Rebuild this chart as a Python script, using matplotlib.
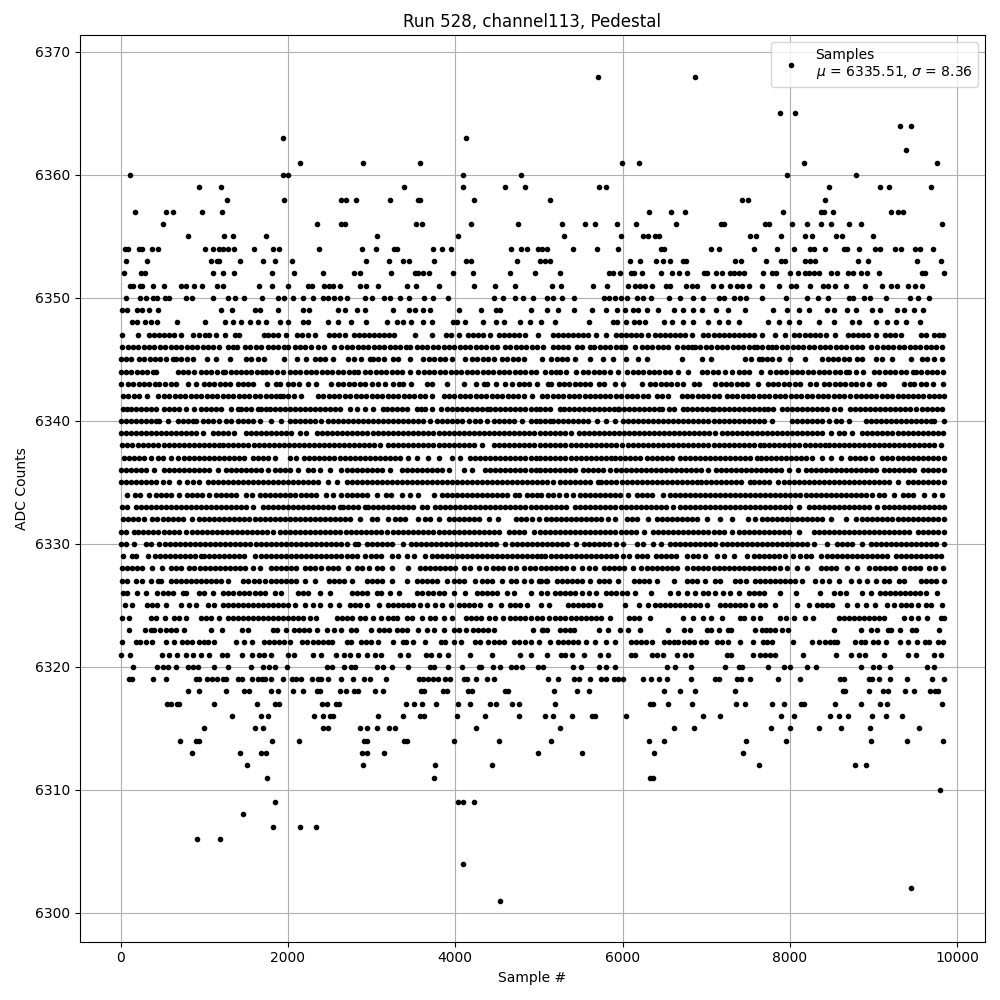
import matplotlib
matplotlib.use('Agg')
import matplotlib.pyplot as plt

# sample numbers, one list per ADC level
adc_6368 = [5708, 6872]
adc_6365 = [7880, 8060]
adc_6364 = [9320, 9452]
adc_6363 = [1940, 4124]
adc_6362 = [9392]
adc_6361 = [2144, 2900, 3584, 5996, 6200, 8168, 9764]
adc_6360 = [116, 1940, 2004, 4088, 4784, 7964, 8792]
adc_6359 = [932, 1196, 3392, 4088, 4592, 4832, 5720, 5804, 8468, 9080, 9188, 9692]
adc_6358 = [1268, 1952, 2636, 2696, 2816, 3224, 3560, 3584, 4220, 5132, 7424, 7496, 8420]
adc_6357 = [176, 536, 620, 968, 1208, 6320, 6584, 6752, 7916, 8368, 8408, 8516, 9212, 9296, 9356]
adc_6356 = [500, 2348, 2636, 2680, 3536, 3608, 4184, 4748, 5276, 5552, 5672, 5936, 6164, 6644, 7172, 7208,
            7700, 7748, 8024, 8204, 8372, 8492, 8708, 8852, 9824]
adc_6355 = [800, 1232, 1340, 1736, 3068, 4028, 5300, 5984, 6248, 6308, 6392, 6440, 7520, 7592, 7892, 8180,
            8264, 8552, 8624, 8996]
adc_6354 = [48, 84, 224, 260, 380, 452, 1004, 1100, 1172, 1220, 1280, 1352, 1592, 1820, 1892, 2372, 2888,
            3056, 3272, 3308, 3740, 3836, 3944, 4664, 4784, 4856, 4988, 5040, 5100, 5404, 5696, 5948, 6464,
            6500, 7064, 7148, 7568, 7844, 8048, 8240, 8288, 8420, 8648, 8684, 8828, 9020, 9080, 9260, 9332,
            9500, 9560, 9716]
adc_6353 = [68, 320, 1076, 1148, 1172, 1424, 1700, 1844, 2048, 2936, 3212, 3380, 3452, 3752, 4124, 4184,
            4736, 5012, 5072, 5132, 6092, 6212, 6404, 6488, 6572, 6728, 6764, 7340, 7412, 7712, 7892, 7940,
            8180, 8240, 8300, 8816, 8936, 9524, 9812]
adc_6352 = [40, 248, 296, 1100, 1220, 1352, 1808, 2072, 2420, 2792, 2864, 3236, 3524, 3560, 3620, 3692,
            3968, 4208, 4652, 4952, 5252, 5836, 5884, 5968, 6104, 6140, 6236, 6464, 6596, 6680, 6776, 6980,
            7016, 7112, 7184, 7280, 7328, 7388, 7448, 7676, 7784, 7832, 8000, 8096, 8180, 8228, 8288, 8348,
            8492, 8564, 8696, 8756, 8852, 8924, 9068, 9584, 9620, 9840]
adc_6351 = [116, 152, 236, 260, 392, 512, 716, 776, 872, 968, 1148, 1220, 1652, 1808, 2000, 2240, 2288,
            2432, 2492, 2540, 2624, 2864, 2936, 3080, 3428, 3536, 3800, 4220, 4472, 4712, 5156, 5264, 5648,
            5816, 6068, 6152, 6212, 6272, 6356, 6524, 6572, 6764, 6836, 6896, 7076, 7172, 7280, 7364, 7424,
            7508, 7664, 7868, 8012, 8072, 8240, 8396, 8456, 8540, 8672, 8900, 9104, 9212, 9284, 9416, 9500,
            9584]
adc_6350 = [60, 236, 308, 392, 440, 524, 572, 776, 848, 1100, 1280, 1364, 1472, 1688, 1880, 1952, 2060,
            2180, 2300, 2420, 2480, 2552, 2624, 2708, 2924, 3008, 3152, 3224, 3344, 3452, 3628, 3740, 3908,
            4460, 4568, 4712, 4808, 4928, 5096, 5168, 5276, 5420, 5780, 5840, 5912, 5984, 6056, 6176, 6248,
            6344, 6560, 6692, 6848, 6968, 7148, 7208, 7328, 7400, 7472, 7664, 7952, 8204, 8336, 8456, 8708,
            8756, 8888, 8960, 9152, 9440, 9536, 9668]
adc_6349 = [20, 80, 200, 260, 340, 452, 1196, 1328, 1604, 1664, 1880, 2180, 2252, 2600, 2684, 2828, 2924,
            3260, 3452, 3524, 3620, 3704, 4040, 4308, 4484, 4532, 4904, 5096, 5228, 5420, 5636, 5804, 5936,
            6032, 6128, 6188, 6292, 6428, 6620, 6728, 6848, 6948, 7112, 7256, 7468, 7804, 7972, 8108, 8228,
            8448, 8528, 8684, 8792, 8980, 9076, 9284, 9368, 9488, 9596]
adc_6348 = [140, 200, 296, 368, 440, 668, 1004, 1244, 1340, 1440, 1544, 1640, 1740, 1904, 2000, 2180, 2240,
            2480, 2600, 2756, 2936, 3180, 3308, 3380, 3476, 3620, 3728, 3968, 4016, 4112, 4328, 4484, 4580,
            4772, 4892, 5024, 5192, 5600, 5888, 5936, 6044, 6140, 6200, 6272, 6500, 6596, 6728, 6848, 7028,
            7148, 7256, 7388, 7736, 7868, 7988, 8108, 8348, 8524, 8740, 8824, 9028, 9160, 9268, 9388, 9556]
adc_6347 = [20, 212, 340, 400, 460, 520, 580, 640, 720, 868, 940, 1012, 1060, 1140, 1252, 1372, 1420, 1708,
            1764, 1820, 1880, 1980, 2108, 2168, 2240, 2320, 2492, 2552, 2612, 2680, 2788, 2848, 2908, 2968,
            3028, 3088, 3148, 3208, 3268, 3516, 3720, 3884, 3944, 4040, 4148, 4208, 4268, 4328, 4420, 4520,
            4580, 4640, 4700, 4760, 4840, 4988, 5168, 5228, 5288, 5348, 5408, 5468, 5528, 5588, 5688, 5808,
            5920, 5980, 6040, 6100, 6160, 6220, 6308, 6388, 6448, 6508, 6568, 6628, 6688, 6748, 6828, 6968,
            7028, 7088, 7148, 7208, 7268, 7328, 7388, 7448, 7508, 7568, 7668, 7820, 7948, 8056, 8116, 8176,
            8236, 8296, 8356, 8428, 8540, 8696, 8756, 8816, 8876, 8936, 9028, 9140, 9200, 9260, 9328, 9568,
            9628, 9728, 9788, 9835]
adc_6346 = [20, 84, 148, 212, 276, 340, 404, 468, 532, 596, 660, 724, 788, 852, 916, 980, 1044, 1108, 1180,
            1280, 1340, 1388, 1488, 1552, 1616, 1680, 1760, 1820, 1884, 1948, 2000, 2080, 2144, 2208, 2272,
            2360, 2428, 2552, 2640, 2704, 2768, 2832, 2896, 2960, 3024, 3088, 3152, 3216, 3280, 3344, 3408,
            3460, 3540, 3604, 3668, 3732, 3796, 3860, 3924, 3988, 4052, 4116, 4180, 4244, 4308, 4372, 4436,
            4500, 4600, 4660, 4724, 4788, 4852, 4916, 4980, 5048, 5168, 5228, 5288, 5348, 5456, 5520, 5608,
            5660, 5728, 5792, 5856, 5920, 5984, 6028, 6148, 6228, 6292, 6356, 6420, 6484, 6548, 6648, 6728,
            6780, 6828, 6868, 6932, 6996, 7060, 7124, 7188, 7252, 7316, 7380, 7444, 7508, 7568, 7608, 7672,
            7736, 7788, 7840, 7908, 7972, 8036, 8100, 8164, 8228, 8292, 8356, 8420, 8484, 8548, 8612, 8676,
            8740, 8804, 8868, 8968, 9048, 9112, 9176, 9240, 9304, 9368, 9432, 9496, 9560, 9624, 9688, 9752,
            9816]
adc_6345 = [8, 60, 128, 220, 284, 348, 412, 476, 540, 620, 660, 724, 788, 860, 1028, 1136, 1312, 1500, 1564,
            1640, 1712, 1952, 2108, 2212, 2320, 2384, 2448, 2540, 2720, 2784, 2868, 2980, 3020, 3080, 3152,
            3260, 3320, 3460, 3620, 3684, 3748, 3812, 3876, 3960, 4112, 4200, 4264, 4328, 4392, 4460, 4560,
            4624, 4688, 4752, 4820, 5040, 5148, 5212, 5276, 5340, 5428, 5612, 5768, 5888, 6040, 6188, 6296,
            6716, 6956, 7064, 7468, 7532, 7628, 7668, 7732, 7788, 7868, 8000, 8180, 8388, 8452, 8516, 8580,
            8644, 8708, 8808, 8864, 9028, 9108, 9228, 9452, 9576, 9640, 9728, 9824]
adc_6344 = [0, 64, 128, 192, 256, 320, 384, 420, 680, 744, 808, 872, 960, 1020, 1084, 1148, 1220, 1252, 1316,
            1380, 1440, 1500, 1564, 1628, 1692, 1740, 1800, 1864, 1940, 2020, 2084, 2148, 2212, 2276, 2340,
            2404, 2468, 2532, 2596, 2660, 2724, 2788, 2840, 2920, 2984, 3048, 3112, 3176, 3240, 3304, 3368,
            3460, 3560, 3624, 3688, 3752, 3816, 3880, 3944, 4008, 4072, 4136, 4200, 4264, 4328, 4392, 4456,
            4520, 4584, 4648, 4712, 4776, 4840, 4904, 4968, 5068, 5148, 5208, 5256, 5320, 5440, 5528, 5592,
            5656, 5720, 5784, 5848, 5948, 6056, 6120, 6184, 6248, 6312, 6376, 6440, 6504, 6568, 6668, 6788,
            6948, 7012, 7076, 7140, 7228, 7308, 7388, 7448, 7512, 7660, 7768, 7832, 7896, 7960, 8024, 8088,
            8152, 8216, 8280, 8344, 8408, 8472, 8536, 8600, 8668, 8708, 8788, 8876, 9008, 9072, 9136, 9200,
            9264, 9328, 9392, 9468, 9508, 9572, 9636, 9700, 9764, 9835]
adc_6343 = [8, 88, 152, 216, 280, 344, 408, 460, 532, 596, 660, 800, 900, 992, 1056, 1120, 1184, 1248, 1312,
            1400, 1460, 1520, 1580, 1752, 1860, 1900, 2000, 2064, 2128, 2240, 2336, 2520, 2600, 2664, 2728,
            2792, 2860, 2920, 3000, 3080, 3160, 3260, 3324, 3380, 3468, 3660, 3720, 3900, 4100, 4248, 4340,
            4380, 4488, 4600, 4680, 4760, 4824, 4880, 4980, 5108, 5148, 5236, 5300, 5364, 5428, 5492, 5556,
            5608, 5720, 5784, 5908, 6008, 6228, 6328, 6392, 6456, 6520, 6584, 6648, 6728, 6860, 6920, 7108,
            7172, 7236, 7300, 7364, 7428, 7488, 7616, 7736, 7800, 7864, 7928, 7992, 8068, 8120, 8240, 8308,
            8408, 8472, 8536, 8600, 8664, 8728, 8792, 8868, 8948, 9068, 9128, 9368, 9432, 9488, 9568, 9632,
            9708, 9836]
adc_6342 = [28, 92, 156, 220, 320, 452, 516, 580, 644, 708, 772, 836, 900, 964, 1028, 1092, 1156, 1220, 1284,
            1348, 1412, 1476, 1540, 1604, 1668, 1732, 1796, 1860, 1900, 1940, 2004, 2068, 2160, 2360, 2424,
            2488, 2552, 2616, 2680, 2744, 2808, 2872, 2936, 3000, 3064, 3128, 3192, 3256, 3320, 3384, 3448,
            3512, 3576, 3640, 3720, 3860, 3924, 3988, 4052, 4116, 4180, 4244, 4308, 4372, 4436, 4500, 4564,
            4628, 4692, 4756, 4820, 4920, 5040, 5100, 5164, 5228, 5292, 5356, 5420, 5484, 5548, 5612, 5668,
            5728, 5792, 5856, 5920, 5984, 6048, 6112, 6176, 6240, 6304, 6408, 6468, 6548, 6708, 6772, 6836,
            6900, 6964, 7028, 7092, 7156, 7248, 7308, 7372, 7436, 7500, 7564, 7628, 7692, 7756, 7820, 7884,
            7948, 8012, 8076, 8140, 8204, 8268, 8332, 8396, 8460, 8524, 8588, 8652, 8716, 8788, 8848, 8908,
            8972, 9036, 9100, 9164, 9228, 9292, 9356, 9408, 9468, 9532, 9596, 9660, 9724, 9788, 9840]
adc_6341 = [28, 76, 128, 188, 248, 308, 368, 428, 520, 580, 640, 700, 780, 880, 960, 1020, 1080, 1140, 1200, 1320,
            1400, 1440, 1500, 1560, 1640, 1680, 1740, 1788, 1840, 1900, 1960, 2020, 2080, 2140, 2200, 2260, 2320,
            2380, 2440, 2500, 2560, 2620, 2740, 2828, 2920, 3020, 3140, 3180, 3240, 3300, 3360, 3420, 3540, 3588,
            3640, 3720, 3828, 3900, 3960, 4020, 4080, 4140, 4200, 4260, 4320, 4380, 4420, 4480, 4540, 4600, 4660,
            4720, 4780, 4840, 4900, 4960, 5008, 5068, 5128, 5248, 5300, 5360, 5420, 5480, 5540, 5600, 5660, 5720,
            5780, 5840, 5900, 5948, 5960, 6020, 6080, 6140, 6200, 6260, 6320, 6380, 6440, 6468, 6560, 6620, 6728,
            6776, 6836, 6896, 6956, 7016, 7068, 7096, 7156, 7216, 7276, 7336, 7396, 7456, 7516, 7576, 7636, 7688,
            7736, 7796, 7908, 7968, 8028, 8088, 8148, 8208, 8268, 8328, 8388, 8448, 8528, 8596, 8720, 8780, 8840,
            8900, 8960, 9020, 9080, 9140, 9200, 9260, 9320, 9380, 9440, 9508, 9580, 9640, 9700, 9760, 9820]
adc_6340 = [0, 60, 120, 180, 240, 300, 360, 420, 460, 560, 680, 740, 800, 860, 900, 980, 1040, 1100, 1180, 1260,
            1320, 1400, 1460, 1520, 1580, 1660, 1800, 1920, 2020, 2080, 2140, 2200, 2260, 2320, 2400, 2480, 2540,
            2600, 2660, 2720, 2780, 2840, 2900, 2960, 3020, 3080, 3140, 3200, 3260, 3320, 3380, 3440, 3500, 3560,
            3620, 3700, 3780, 3840, 3900, 3960, 4020, 4080, 4160, 4240, 4300, 4380, 4460, 4520, 4580, 4640, 4700,
            4800, 4900, 4960, 5008, 5068, 5128, 5168, 5228, 5288, 5348, 5408, 5468, 5528, 5588, 5696, 5808, 5908,
            6008, 6068, 6128, 6188, 6248, 6308, 6368, 6428, 6488, 6548, 6608, 6668, 6728, 6788, 6848, 6908, 6968,
            7028, 7088, 7148, 7208, 7268, 7328, 7388, 7448, 7508, 7568, 7628, 7688, 7788, 8028, 8088, 8148, 8208,
            8268, 8328, 8388, 8468, 8548, 8608, 8708, 8908, 8968, 9028, 9088, 9148, 9208, 9268, 9328, 9388, 9448,
            9508, 9568, 9628, 9688, 9728, 9842]
adc_6339 = [0, 60, 120, 180, 240, 300, 360, 420, 480, 540, 600, 660, 720, 780, 840, 900, 980, 1100, 1160, 1220,
            1280, 1360, 1500, 1560, 1620, 1680, 1740, 1800, 1860, 1920, 1980, 2040, 2140, 2220, 2348, 2408, 2468,
            2528, 2588, 2648, 2708, 2768, 2828, 2888, 2940, 3020, 3080, 3140, 3200, 3260, 3320, 3380, 3440, 3500,
            3560, 3620, 3680, 3740, 3800, 3860, 3920, 3980, 4040, 4100, 4160, 4220, 4280, 4340, 4400, 4460, 4520,
            4580, 4640, 4700, 4760, 4820, 4880, 4940, 5008, 5068, 5128, 5188, 5248, 5308, 5388, 5480, 5540, 5600,
            5660, 5720, 5780, 5840, 5900, 5960, 6020, 6080, 6140, 6200, 6260, 6320, 6380, 6440, 6500, 6560, 6620,
            6680, 6740, 6800, 6860, 6920, 6980, 7040, 7108, 7188, 7248, 7308, 7368, 7428, 7488, 7548, 7608, 7668,
            7728, 7788, 7848, 7908, 7968, 8028, 8088, 8148, 8208, 8268, 8328, 8388, 8488, 8588, 8648, 8748, 8868,
            8928, 8988, 9048, 9108, 9168, 9228, 9288, 9348, 9408, 9468, 9528, 9588, 9648, 9708, 9768, 9828]
adc_6338 = [12, 76, 140, 212, 272, 332, 392, 452, 512, 572, 632, 692, 752, 812, 872, 932, 992, 1052, 1112, 1180,
            1228, 1288, 1348, 1408, 1468, 1528, 1588, 1648, 1708, 1768, 1828, 1888, 1948, 2008, 2068, 2128, 2188,
            2248, 2308, 2368, 2428, 2488, 2548, 2608, 2668, 2728, 2788, 2848, 2908, 2968, 3028, 3100, 3200, 3260,
            3320, 3380, 3440, 3500, 3560, 3620, 3680, 3740, 3800, 3860, 3920, 3980, 4040, 4100, 4160, 4220, 4320,
            4460, 4520, 4580, 4640, 4700, 4760, 4820, 4880, 4940, 5008, 5068, 5128, 5188, 5248, 5308, 5388, 5448,
            5508, 5568, 5628, 5688, 5748, 5808, 5868, 5928, 5988, 6068, 6128, 6188, 6248, 6308, 6368, 6428, 6488,
            6548, 6608, 6668, 6728, 6788, 6848, 6908, 6968, 7028, 7088, 7148, 7208, 7268, 7328, 7388, 7448, 7508,
            7568, 7648, 7696, 7756, 7816, 7876, 7936, 7996, 8056, 8116, 8176, 8236, 8296, 8356, 8416, 8468, 8528,
            8588, 8648, 8708, 8768, 8828, 8888, 8948, 9008, 9068, 9128, 9188, 9248, 9308, 9368, 9428, 9488, 9548,
            9608, 9668, 9728, 9808]
adc_6337 = [40, 100, 160, 220, 280, 360, 452, 500, 600, 680, 760, 820, 880, 940, 1000, 1060, 1120, 1180, 1240, 1300,
            1360, 1420, 1480, 1580, 1640, 1700, 1760, 1840, 2020, 2100, 2188, 2248, 2308, 2368, 2428, 2488, 2548,
            2620, 2680, 2740, 2800, 2860, 2920, 2980, 3040, 3100, 3160, 3220, 3280, 3340, 3440, 3540, 3680, 3800,
            3960, 4060, 4180, 4240, 4300, 4360, 4420, 4480, 4540, 4600, 4660, 4720, 4780, 4840, 4900, 4960, 5008,
            5068, 5128, 5188, 5248, 5308, 5388, 5440, 5500, 5560, 5620, 5680, 5740, 5800, 5860, 5908, 5968, 6028,
            6088, 6148, 6208, 6288, 6348, 6408, 6468, 6528, 6588, 6688, 6748, 6808, 6868, 6928, 6988, 7048, 7108,
            7168, 7228, 7288, 7348, 7408, 7468, 7528, 7608, 7656, 7716, 7776, 7836, 7896, 7956, 8016, 8076, 8136,
            8188, 8268, 8388, 8496, 8616, 8720, 8780, 8840, 8900, 8988, 9108, 9168, 9228, 9288, 9348, 9408, 9468,
            9528, 9588, 9648, 9708, 9768, 9840]
adc_6336 = [0, 60, 120, 180, 240, 300, 400, 520, 580, 640, 700, 760, 820, 880, 940, 1000, 1060, 1160, 1260, 1320,
            1380, 1440, 1500, 1560, 1620, 1680, 1760, 1840, 1900, 1960, 2020, 2120, 2240, 2300, 2380, 2500, 2640,
            2700, 2760, 2820, 2880, 2940, 3000, 3060, 3120, 3220, 3360, 3420, 3480, 3540, 3600, 3660, 3720, 3780,
            3840, 3920, 4100, 4200, 4360, 4420, 4480, 4540, 4600, 4660, 4720, 4780, 4840, 4900, 4960, 5008, 5068,
            5128, 5188, 5248, 5308, 5368, 5428, 5528, 5588, 5648, 5708, 5768, 5848, 5920, 5980, 6040, 6100, 6160,
            6220, 6280, 6340, 6400, 6460, 6520, 6580, 6640, 6700, 6760, 6820, 6880, 6940, 7028, 7120, 7180, 7240,
            7300, 7360, 7420, 7480, 7540, 7600, 7660, 7720, 7780, 7840, 7900, 7988, 8096, 8188, 8248, 8308, 8368,
            8428, 8488, 8548, 8608, 8668, 8728, 8788, 8848, 8908, 8968, 9028, 9128, 9188, 9248, 9308, 9368, 9428,
            9488, 9588, 9648, 9708, 9768, 9842]
adc_6335 = [0, 60, 120, 180, 240, 300, 360, 420, 500, 580, 692, 788, 860, 932, 1040, 1100, 1160, 1220, 1280, 1340,
            1400, 1460, 1520, 1580, 1640, 1700, 1760, 1820, 1880, 1940, 2000, 2060, 2120, 2180, 2240, 2300, 2360,
            2480, 2588, 2700, 2760, 2820, 2880, 2940, 3000, 3060, 3120, 3180, 3240, 3300, 3360, 3420, 3480, 3540,
            3600, 3660, 3720, 3780, 3840, 3900, 3960, 4020, 4080, 4140, 4200, 4260, 4320, 4380, 4440, 4500, 4560,
            4620, 4680, 4740, 4800, 4860, 4920, 4980, 5040, 5100, 5168, 5248, 5308, 5368, 5428, 5488, 5548, 5608,
            5708, 5748, 5808, 5868, 5928, 5988, 6048, 6108, 6168, 6228, 6288, 6348, 6408, 6468, 6528, 6588, 6648,
            6708, 6768, 6828, 6888, 6936, 6996, 7056, 7116, 7176, 7236, 7296, 7356, 7416, 7520, 7576, 7636, 7696,
            7756, 7856, 7928, 7988, 8048, 8108, 8168, 8228, 8288, 8348, 8408, 8468, 8528, 8588, 8648, 8708, 8768,
            8828, 8888, 8948, 9008, 9068, 9128, 9188, 9288, 9408, 9468, 9528, 9588, 9648, 9708, 9768, 9842]
adc_6334 = [80, 172, 232, 340, 420, 480, 540, 600, 700, 788, 848, 908, 968, 1060, 1140, 1200, 1260, 1320, 1380, 1500,
            1572, 1660, 1720, 1780, 1840, 1900, 1960, 2020, 2088, 2160, 2220, 2280, 2340, 2460, 2540, 2640, 2700,
            2760, 2820, 2880, 2940, 3060, 3168, 3228, 3360, 3460, 3560, 3752, 3840, 3900, 3960, 4020, 4080, 4140,
            4200, 4260, 4320, 4380, 4440, 4500, 4560, 4620, 4720, 4768, 4860, 4920, 4980, 5028, 5108, 5168, 5240,
            5328, 5408, 5488, 5548, 5608, 5668, 5728, 5788, 5848, 5908, 5968, 6068, 6168, 6228, 6288, 6348, 6488,
            6568, 6628, 6688, 6748, 6808, 6868, 6928, 6988, 7048, 7108, 7168, 7228, 7288, 7348, 7408, 7468, 7528,
            7588, 7648, 7708, 7768, 7828, 7888, 7948, 8008, 8068, 8128, 8188, 8248, 8308, 8368, 8428, 8488, 8548,
            8608, 8668, 8728, 8788, 8848, 8908, 8988, 9068, 9128, 9248, 9348, 9408, 9468, 9608, 9720, 9816]
adc_6333 = [12, 80, 180, 240, 300, 360, 420, 480, 540, 600, 660, 720, 780, 840, 900, 960, 1020, 1080, 1140, 1200,
            1260, 1320, 1380, 1440, 1500, 1580, 1700, 1760, 1820, 1880, 1940, 2000, 2060, 2120, 2180, 2240, 2300,
            2360, 2420, 2480, 2540, 2620, 2660, 2720, 2780, 2840, 2920, 2960, 3020, 3080, 3140, 3200, 3260, 3320,
            3380, 3440, 3500, 3600, 3660, 3760, 3820, 3880, 3940, 4000, 4060, 4120, 4180, 4240, 4300, 4360, 4420,
            4480, 4540, 4600, 4660, 4720, 4780, 4840, 4900, 4960, 5020, 5080, 5140, 5200, 5260, 5320, 5428, 5496,
            5556, 5616, 5676, 5736, 5796, 5856, 5916, 5976, 6036, 6096, 6156, 6216, 6276, 6336, 6396, 6456, 6516,
            6608, 6688, 6748, 6808, 6868, 6928, 6988, 7048, 7108, 7168, 7228, 7288, 7348, 7408, 7468, 7528, 7588,
            7648, 7708, 7768, 7828, 7888, 7948, 8008, 8108, 8228, 8288, 8348, 8408, 8468, 8528, 8588, 8648, 8708,
            8768, 8828, 8888, 8948, 9048, 9128, 9188, 9248, 9308, 9368, 9428, 9488, 9548, 9608, 9668, 9728, 9788,
            9840]
adc_6332 = [28, 88, 148, 208, 280, 380, 440, 500, 560, 620, 680, 740, 852, 940, 1000, 1060, 1120, 1180, 1240, 1300,
            1360, 1420, 1480, 1540, 1600, 1660, 1720, 1780, 1840, 1900, 1960, 2020, 2080, 2140, 2200, 2260, 2320,
            2380, 2440, 2500, 2560, 2620, 2680, 2740, 2860, 3000, 3060, 3200, 3280, 3340, 3400, 3560, 3640, 3700,
            3800, 3920, 3980, 4040, 4100, 4160, 4220, 4280, 4400, 4508, 4732, 4792, 4852, 4912, 5000, 5080, 5140,
            5200, 5260, 5320, 5380, 5440, 5500, 5560, 5620, 5680, 5740, 5828, 5912, 6056, 6116, 6176, 6308, 6416,
            6476, 6536, 6596, 6656, 6716, 6776, 6836, 6896, 7008, 7168, 7308, 7496, 7588, 7668, 7728, 7788, 7848,
            7908, 7968, 8028, 8088, 8148, 8208, 8268, 8328, 8388, 8488, 8668, 8788, 8868, 8928, 8988, 9048, 9108,
            9168, 9228, 9288, 9348, 9408, 9468, 9528, 9588, 9648, 9708, 9768, 9840]
adc_6331 = [0, 60, 160, 212, 272, 332, 392, 452, 512, 572, 632, 692, 780, 852, 912, 972, 1032, 1092, 1152, 1212,
            1272, 1332, 1392, 1452, 1512, 1572, 1632, 1692, 1752, 1820, 1908, 1968, 2028, 2088, 2148, 2208, 2268,
            2328, 2388, 2448, 2508, 2568, 2628, 2688, 2748, 2808, 2868, 2928, 2988, 3048, 3108, 3180, 3260, 3320,
            3380, 3440, 3500, 3560, 3620, 3680, 3740, 3800, 3860, 3920, 3980, 4040, 4100, 4160, 4220, 4280, 4340,
            4400, 4460, 4520, 4640, 4700, 4760, 4820, 4940, 5008, 5068, 5128, 5188, 5248, 5308, 5376, 5436, 5496,
            5556, 5616, 5676, 5736, 5796, 5856, 5916, 5976, 6036, 6096, 6156, 6256, 6368, 6428, 6488, 6548, 6608,
            6668, 6728, 6788, 6848, 6908, 6968, 7028, 7088, 7148, 7208, 7308, 7388, 7448, 7508, 7568, 7628, 7688,
            7748, 7808, 7868, 7928, 7988, 8108, 8288, 8348, 8408, 8468, 8528, 8588, 8648, 8708, 8768, 8828, 8888,
            8948, 9008, 9068, 9128, 9188, 9248, 9308, 9368, 9428, 9528, 9588, 9648, 9708, 9768, 9840]
adc_6330 = [0, 60, 160, 300, 360, 460, 532, 592, 652, 712, 772, 832, 892, 952, 1012, 1072, 1132, 1192, 1252, 1312,
            1372, 1432, 1492, 1552, 1612, 1672, 1732, 1792, 1852, 1912, 1972, 2032, 2092, 2152, 2212, 2272, 2340,
            2400, 2460, 2520, 2580, 2640, 2700, 2800, 2840, 2940, 3000, 3060, 3120, 3180, 3240, 3380, 3468, 3528,
            3588, 3648, 3708, 3768, 3828, 3888, 3948, 4008, 4068, 4128, 4188, 4248, 4308, 4368, 4428, 4488, 4600,
            4680, 4740, 4800, 4860, 4920, 4980, 5040, 5100, 5160, 5220, 5280, 5340, 5448, 5536, 5596, 5656, 5716,
            5776, 5836, 5920, 6008, 6168, 6248, 6368, 6456, 6568, 6628, 6688, 6748, 6808, 6868, 6928, 6988, 7048,
            7108, 7188, 7248, 7308, 7368, 7428, 7488, 7548, 7608, 7668, 7728, 7788, 7848, 7908, 7968, 8028, 8088,
            8148, 8208, 8288, 8448, 8568, 8628, 8688, 8748, 8868, 8968, 9028, 9088, 9148, 9208, 9268, 9328, 9388,
            9448, 9508, 9568, 9628, 9688, 9748, 9842]
adc_6329 = [28, 140, 188, 332, 412, 472, 532, 592, 652, 712, 772, 832, 892, 960, 1000, 1060, 1120, 1180, 1240, 1300,
            1360, 1420, 1480, 1600, 1680, 1740, 1800, 1860, 1920, 1980, 2040, 2100, 2160, 2220, 2280, 2340, 2400,
            2460, 2520, 2580, 2640, 2700, 2760, 2820, 2920, 2988, 3048, 3108, 3240, 3320, 3420, 3508, 3640, 3720,
            3780, 3840, 3900, 3960, 4020, 4080, 4140, 4200, 4260, 4320, 4380, 4440, 4500, 4560, 4620, 4680, 4740,
            4800, 4860, 4920, 4980, 5028, 5068, 5148, 5208, 5268, 5328, 5388, 5448, 5508, 5568, 5628, 5688, 5748,
            5808, 5868, 5928, 6000, 6072, 6168, 6228, 6288, 6400, 6460, 6520, 6580, 6640, 6768, 6840, 6908, 6988,
            7128, 7208, 7328, 7488, 7568, 7628, 7688, 7748, 7808, 7868, 7948, 8036, 8128, 8188, 8248, 8368, 8440,
            8508, 8568, 8628, 8688, 8748, 8808, 8868, 8928, 8988, 9048, 9108, 9168, 9268, 9328, 9388, 9448, 9508,
            9568, 9628, 9688, 9748, 9808]
adc_6328 = [12, 72, 132, 192, 260, 380, 488, 600, 660, 720, 820, 872, 952, 1012, 1072, 1132, 1192, 1252, 1312, 1372,
            1432, 1492, 1580, 1664, 1792, 1852, 1912, 1972, 2032, 2100, 2200, 2260, 2320, 2400, 2480, 2540, 2600,
            2720, 2820, 2880, 2972, 3060, 3120, 3240, 3440, 3580, 3640, 3700, 3760, 3820, 3880, 3940, 4000, 4100,
            4180, 4280, 4368, 4452, 4512, 4572, 4660, 4728, 4828, 4888, 4948, 5028, 5088, 5148, 5208, 5268, 5328,
            5408, 5520, 5600, 5668, 5776, 5836, 5896, 5956, 6016, 6128, 6216, 6288, 6348, 6408, 6468, 6528, 6588,
            6648, 6768, 6848, 6908, 6968, 7028, 7088, 7148, 7208, 7268, 7328, 7388, 7448, 7508, 7568, 7628, 7688,
            7748, 7808, 7880, 7968, 8088, 8208, 8368, 8428, 8488, 8548, 8688, 8808, 8948, 9016, 9076, 9136, 9196,
            9256, 9368, 9440, 9500, 9560, 9668, 9736, 9828]
adc_6327 = [20, 80, 180, 260, 360, 452, 480, 600, 660, 720, 780, 840, 900, 960, 1020, 1080, 1140, 1200, 1280, 1468,
            1528, 1588, 1648, 1720, 1800, 1860, 1920, 1980, 2040, 2100, 2200, 2320, 2492, 2552, 2612, 2672, 2760,
            2940, 3000, 3060, 3120, 3240, 3420, 3540, 3600, 3660, 3720, 3780, 3900, 3980, 4040, 4100, 4240, 4320,
            4380, 4440, 4560, 4668, 4728, 4820, 4900, 5000, 5100, 5028, 5088, 5216, 5276, 5336, 5396, 5456, 5516,
            5608, 5720, 5780, 5840, 5948, 6136, 6196, 6256, 6316, 6408, 6620, 6768, 6828, 6888, 6988, 7100, 7168,
            7348, 7408, 7476, 7580, 7640, 7700, 7760, 7820, 7880, 7940, 8000, 8060, 8148, 8296, 8388, 8468, 8588,
            8728, 8828, 8928, 9028, 9128, 9188, 9308, 9368, 9568, 9628, 9688, 9748, 9842]
adc_6326 = [28, 80, 200, 300, 440, 500, 560, 620, 740, 780, 940, 1000, 1100, 1220, 1280, 1340, 1420, 1480, 1540, 1600,
            1660, 1720, 1840, 1920, 2120, 2180, 2240, 2380, 2500, 2760, 2820, 2880, 2940, 3060, 3108, 3220, 3332,
            3540, 3600, 3680, 3740, 3800, 3860, 3980, 4112, 4260, 4320, 4380, 4440, 4500, 4620, 4700, 4900, 5020,
            5100, 5188, 5248, 5308, 5368, 5428, 5520, 5600, 5680, 5808, 5868, 5928, 5988, 6048, 6148, 6336, 6568,
            6668, 6768, 6868, 6968, 7028, 7108, 7200, 7288, 7388, 7508, 7568, 7628, 7696, 7888, 8080, 8360, 8528,
            8600, 8668, 8860, 8968, 9080, 9140, 9200, 9260, 9320, 9380, 9440, 9500, 9560, 9628, 9756]
adc_6325 = [52, 140, 320, 380, 440, 540, 720, 820, 900, 1040, 1120, 1220, 1280, 1340, 1400, 1460, 1520, 1580, 1640,
            1700, 1760, 1820, 1880, 1940, 2000, 2080, 2200, 2300, 2380, 2500, 2608, 2740, 2800, 2860, 2940, 3092,
            3200, 3260, 3320, 3380, 3440, 3500, 3580, 3660, 3760, 3840, 3948, 4040, 4100, 4160, 4220, 4300, 4412,
            4552, 4652, 4712, 4780, 4860, 5020, 5120, 5348, 5408, 5468, 5528, 5588, 5648, 5728, 6028, 6196, 6308,
            6388, 6448, 6508, 6568, 6628, 6688, 6748, 6808, 6868, 6928, 7008, 7168, 7228, 7288, 7348, 7408, 7468,
            7548, 7648, 7708, 7828, 8084, 8228, 8320, 8380, 8440, 8508, 8688, 8808, 8908, 9020, 9168, 9248, 9328,
            9388, 9448, 9528, 9628, 9688, 9824]
adc_6324 = [12, 100, 360, 420, 532, 640, 700, 780, 960, 1020, 1080, 1180, 1280, 1340, 1400, 1460, 1520, 1580, 1640,
            1700, 1760, 1820, 1880, 1940, 2000, 2060, 2120, 2180, 2260, 2340, 2588, 2648, 2708, 2768, 2860, 2920,
            3020, 3108, 3200, 3260, 3308, 3420, 3480, 3600, 3700, 3760, 3860, 3960, 4132, 4192, 4252, 4312, 4400,
            4480, 4568, 4660, 4720, 4780, 4840, 4900, 4980, 5040, 5120, 5188, 5248, 5308, 5388, 5448, 5508, 5568,
            5628, 5688, 5748, 5848, 6080, 6140, 6200, 6328, 6728, 6848, 6968, 7060, 7188, 7408, 7448, 7556, 7648,
            7880, 7960, 8048, 8180, 8280, 8588, 8648, 8708, 8768, 8828, 8888, 8948, 9008, 9068, 9128, 9368, 9448,
            9528, 9640, 9808, 9842]
adc_6323 = [104, 296, 368, 400, 476, 536, 596, 656, 752, 1076, 1208, 1448, 1520, 1820, 1868, 1976, 2072, 2132,
            2192, 2252, 2348, 2468, 2552, 2636, 2756, 2816, 2996, 3092, 3152, 3212, 3308, 3368, 3428, 3560,
            3668, 3752, 3860, 3980, 4040, 4124, 4208, 4268, 4328, 4388, 4460, 4928, 5036, 5096, 5048, 5248,
            5308, 5368, 5416, 5720, 5828, 5968, 6064, 6208, 6544, 6736, 6808, 7012, 7060, 7156, 7264, 7300,
            7588, 7672, 7720, 7768, 7828, 7912, 7984, 8524, 8848, 8968, 9040, 9172, 9208, 9316, 9464, 9512,
            9784]
adc_6322 = [20, 188, 236, 308, 380, 536, 632, 728, 788, 848, 932, 992, 1040, 1112, 1376, 1472, 1568, 1712, 1772,
            1832, 1892, 1952, 2024, 2168, 2228, 2300, 2360, 2420, 2480, 2528, 2708, 2756, 2876, 2936, 2996,
            3080, 3260, 3380, 3416, 3492, 3644, 3824, 3872, 3980, 4064, 4232, 4292, 4388, 4460, 4520, 4580,
            4700, 4760, 4832, 4904, 5000, 5132, 5228, 5288, 5348, 5408, 5468, 5564, 5672, 5804, 5912, 6104,
            6164, 6224, 6284, 6356, 6500, 6560, 6620, 6668, 6740, 6800, 6860, 6944, 7004, 7124, 7184, 7256,
            7400, 7556, 7676, 7724, 7784, 8036, 8264, 8348, 8420, 8480, 8528, 8564, 8780, 8852, 8900, 8996,
            9056, 9152, 9320, 9416, 9524, 9620, 9668, 9768, 9836]
adc_6321 = [0, 116, 488, 572, 668, 776, 860, 956, 1052, 1208, 1268, 1448, 1568, 1652, 1712, 1796, 2000, 2072,
            2300, 2396, 2576, 2672, 2744, 2840, 2948, 3044, 3116, 3344, 3440, 3656, 3716, 3800, 3908, 4172,
            4436, 4772, 4904, 5096, 5264, 5312, 5396, 5540, 5732, 5828, 6104, 6152, 6356, 6416, 6488, 6656,
            6752, 6824, 7244, 7292, 7556, 7640, 7700, 7760, 7820, 8156, 8552, 8732, 8828, 8900, 9128, 9416,
            9512, 9728, 9812]
adc_6320 = [152, 440, 500, 560, 656, 800, 860, 920, 1112, 1280, 1556, 1700, 1772, 1844, 1988, 2468, 2528, 2672,
            2756, 2804, 3068, 3140, 3248, 3440, 3704, 3752, 3908, 4076, 4280, 4304, 4448, 4532, 4664, 4724,
            4796, 4988, 5048, 5408, 5504, 5720, 5804, 5912, 6536, 6632, 6824, 7220, 7388, 7424, 7744, 7928,
            8000, 8204, 8312, 8852, 8996, 9068, 9200, 9644, 9728]
adc_6319 = [100, 140, 392, 536, 896, 932, 1028, 1088, 1148, 1220, 1256, 1400, 1448, 1568, 1640, 1688, 1724, 1796,
            1940, 2048, 2096, 2156, 2288, 2360, 2396, 2480, 2632, 2780, 2912, 2984, 3176, 3572, 3620, 3680,
            3740, 3788, 3872, 3932, 4100, 4136, 4244, 4376, 4460, 5108, 5228, 5420, 5480, 5608, 5744, 5804,
            5900, 5948, 6008, 6244, 6340, 6436, 6532, 6820, 7108, 7156, 7372, 7420, 7520, 7864, 8128, 8596,
            8644, 8944, 8980, 9064, 9196, 9400, 9700, 9842]
adc_6318 = [800, 932, 1256, 1472, 1532, 1796, 1880, 2060, 2180, 2348, 2380, 2624, 2696, 2792, 2840, 3044, 3140,
            3596, 3632, 3848, 3896, 4148, 4196, 4592, 4628, 5180, 5456, 5600, 6500, 6692, 6872, 7340, 8636,
            8660, 8948, 9116, 9176, 9380, 9488, 9680, 9740, 9776]
adc_6317 = [548, 596, 668, 692, 1112, 1628, 1844, 1892, 2408, 2468, 2576, 2612, 3416, 3512, 3608, 3776, 4028,
            4172, 4412, 4484, 4676, 4760, 5192, 6332, 6368, 6548, 6836, 7352, 7460, 7784, 7928, 8132, 8168,
            8540, 8852, 9080, 9164, 9824]
adc_6316 = [1328, 1676, 1760, 2312, 2420, 2504, 2540, 3080, 3380, 3584, 3632, 4016, 4352, 4760, 5072, 5168, 5396,
            5636, 5672, 6044, 6968, 7160, 7892, 8048, 8480, 8588, 8696, 8984, 9152, 9344]
adc_6315 = [992, 1604, 1700, 2420, 2480, 2864, 2948, 3068, 3212, 3284, 4244, 5252, 6620, 6860, 7772, 8000, 8348,
            8612, 8960, 9548]
adc_6314 = [704, 896, 932, 1808, 2132, 2912, 2948, 3392, 3428, 3980, 4520, 5144, 6320, 6500, 7472, 7952, 8972,
            9404, 9836]
adc_6313 = [848, 1424, 1676, 1736, 2888, 2948, 3152, 4988, 5516, 6380, 7436]
adc_6312 = [1508, 2900, 3764, 4436, 7628, 8780, 8912]
adc_6311 = [1748, 3752, 6332, 6368]
adc_6310 = [9800]
adc_6309 = [1844, 4028, 4092, 4220]
adc_6308 = [1460]
adc_6307 = [1820, 2144, 2336]
adc_6306 = [908, 1184]
adc_6304 = [4088]
adc_6302 = [9452]
adc_6301 = [4532]

levels = [6368, 6365, 6364, 6363, 6362, 6361, 6360, 6359, 6358, 6357, 6356, 6355, 6354, 6353, 6352,
          6351, 6350, 6349, 6348, 6347, 6346, 6345, 6344, 6343, 6342, 6341, 6340, 6339, 6338, 6337, 6336,
          6335, 6334, 6333, 6332, 6331, 6330, 6329, 6328, 6327, 6326, 6325, 6324, 6323, 6322, 6321, 6320,
          6319, 6318, 6317, 6316, 6315, 6314, 6313, 6312, 6311, 6310, 6309, 6308, 6307, 6306, 6304, 6302,
          6301]
rows = [adc_6368, adc_6365, adc_6364, adc_6363, adc_6362, adc_6361, adc_6360, adc_6359, adc_6358,
        adc_6357, adc_6356, adc_6355, adc_6354, adc_6353, adc_6352, adc_6351, adc_6350, adc_6349, adc_6348,
        adc_6347, adc_6346, adc_6345, adc_6344, adc_6343, adc_6342, adc_6341, adc_6340, adc_6339, adc_6338,
        adc_6337, adc_6336, adc_6335, adc_6334, adc_6333, adc_6332, adc_6331, adc_6330, adc_6329, adc_6328,
        adc_6327, adc_6326, adc_6325, adc_6324, adc_6323, adc_6322, adc_6321, adc_6320, adc_6319, adc_6318,
        adc_6317, adc_6316, adc_6315, adc_6314, adc_6313, adc_6312, adc_6311, adc_6310, adc_6309, adc_6308,
        adc_6307, adc_6306, adc_6304, adc_6302, adc_6301]

mu = 6335.51
sigma = 8.36

x = []
y = []
for level, row in zip(levels, rows):
    x += row
    y += [level] * len(row)

fig = plt.figure(figsize=(10, 10))
plt.plot(x, y, 'k.', label=f'Samples\n$\\mu$ = {mu:.2f}, $\\sigma$ = {sigma:.2f}')
plt.title('Run 528, channel113, Pedestal')
plt.xlabel('Sample #')
plt.ylabel('ADC Counts')
plt.grid(True)
plt.legend(loc='upper right')
plt.tight_layout()
# top of the axes sits 2 px higher in the reference
fig.subplots_adjust(top=fig.subplotpars.top + 0.002)
plt.savefig('out.png', dpi=100)
